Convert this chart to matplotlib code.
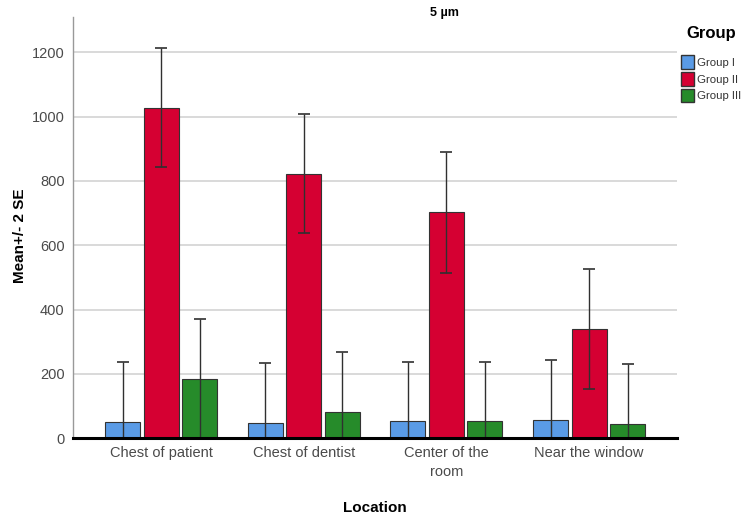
import numpy as np
import matplotlib.pyplot as plt
from matplotlib.patches import Patch

plt.rcParams['font.family'] = ['Liberation Sans', 'DejaVu Sans']

locations = ["Chest of patient", "Chest of dentist", "Center of the\nroom", "Near the window"]
groups = ["Group I", "Group II", "Group III"]
colors = ["#5A9BE6", "#D50032", "#268B2A"]

# mean values per group (one entry per location)
means = {
    "Group I": [51, 48, 52, 56],
    "Group II": [1028, 823, 702, 339],
    "Group III": [184, 82, 54, 44],
}
# 2 SE half-widths
two_se = {
    "Group I": [185, 186, 185, 186],
    "Group II": [186, 186, 187, 186],
    "Group III": [187, 185, 184, 186],
}

fig = plt.figure(figsize=(7.49, 5.16), dpi=100)
ax = fig.add_axes([0.0975, 0.151, 0.8065, 0.816])

x = np.arange(len(locations))
width = 0.245
offset = 0.27
for i, g in enumerate(groups):
    pos = x + (i - 1) * offset
    ax.bar(pos, means[g], width, color=colors[i], edgecolor="#333333",
           linewidth=0.8, zorder=2)
    ax.errorbar(pos, means[g], yerr=two_se[g], fmt="none", ecolor="#303030",
                elinewidth=1.0, capsize=4, capthick=1.2, zorder=3)

ax.set_xlim(-0.617, 3.617)
ax.set_ylim(0, 1310)
ax.set_yticks(np.arange(0, 1201, 200))
ax.set_xticks(x)
ax.set_xticklabels(locations, linespacing=1.4)
ax.tick_params(axis="both", length=0, labelsize=10.5, labelcolor="#4a4a4a", pad=6)
ax.grid(axis="y", color="#D3D3D3", linewidth=1.2, zorder=0)
ax.set_axisbelow(True)

for s in ["top", "right"]:
    ax.spines[s].set_visible(False)
ax.spines["left"].set_color("#999999")
ax.spines["left"].set_linewidth(1.0)
ax.spines["bottom"].set_color("black")
ax.spines["bottom"].set_linewidth(2.2)
ax.spines["bottom"].set_zorder(4)

ax.set_ylabel("Mean+/- 2 SE", fontsize=11, fontweight="bold")
ax.yaxis.set_label_coords(-0.088, 0.48)
ax.set_xlabel("Location", fontsize=11, fontweight="bold")
ax.xaxis.set_label_coords(0.5, -0.165)
ax.xaxis.label.set_va("center")
ax.yaxis.label.set_va("center")

fig.text(0.594, 0.987, "5 \u00b5m", ha="center", va="top", fontsize=9, fontweight="bold")

handles = [Patch(facecolor=c, edgecolor="#333333", label=g) for c, g in zip(colors, groups)]
leg = fig.legend(handles=handles, loc="upper left", bbox_to_anchor=(0.903, 0.958),
                 frameon=False, fontsize=8.2, title="Group",
                 title_fontproperties={"weight": "bold", "size": 12},
                 handlelength=1.15, handleheight=1.5, handletextpad=0.3,
                 labelspacing=0.25, borderaxespad=0)
leg._legend_box.sep = 10
for t in leg.get_texts():
    t.set_color("#333333")

fig.savefig("out.png", dpi=100)
